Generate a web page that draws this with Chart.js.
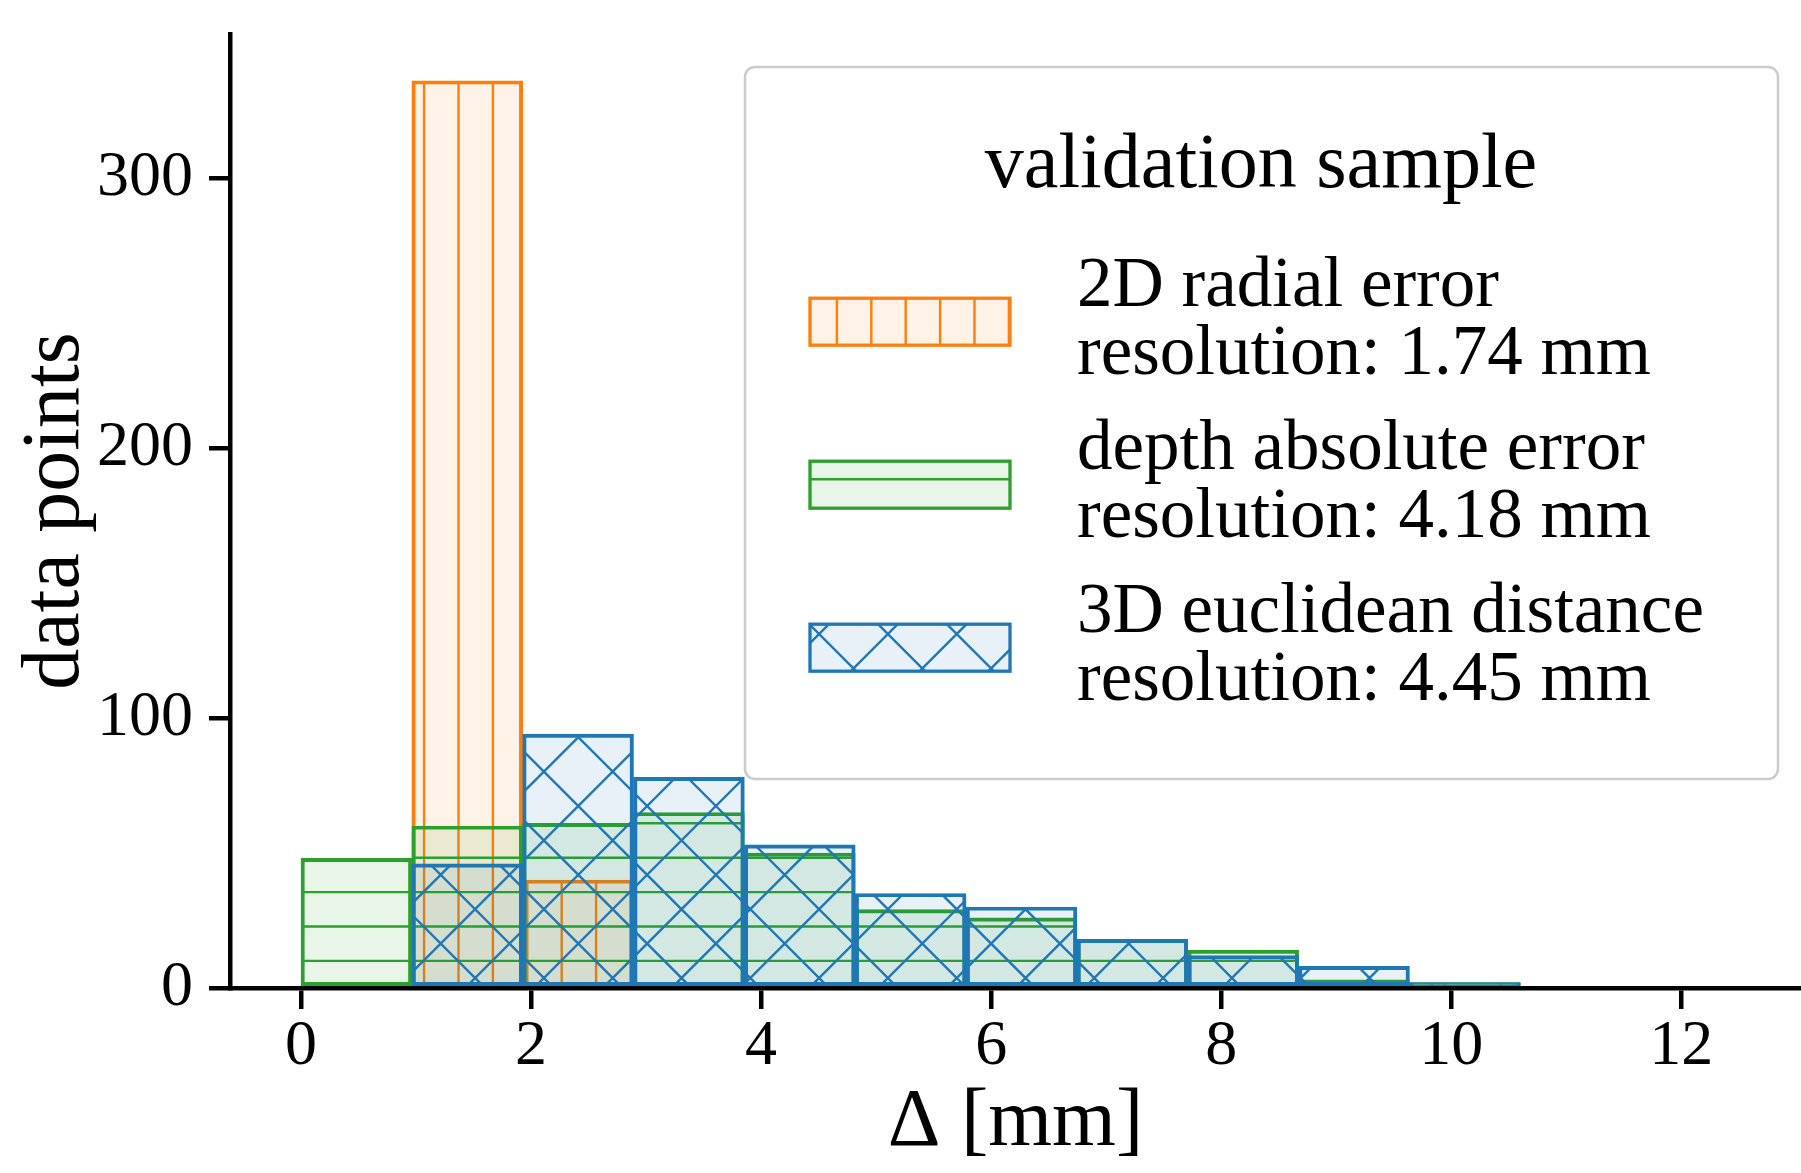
<!DOCTYPE html>
<html>
<head>
<meta charset="utf-8">
<script src="https://cdn.jsdelivr.net/npm/chart.js@4.4.1/dist/chart.umd.min.js"></script>
<style>
  html, body { margin: 0; padding: 0; background: #fff; }
  canvas { display: block; }
</style>
</head>
<body>
<canvas id="histChart" width="1801" height="1173"></canvas>
<script>
// histogram bin edges [mm]
const binEdges = [0, 0.9636, 1.9273, 2.8909, 3.8545, 4.8182, 5.7818, 6.7455, 7.7091, 8.6727, 9.6364, 10.6];
// counts per bin
const radial2D = [0, 336, 40, 0, 0, 0, 0, 0, 0, 0, 0];
const depthAbs = [48, 60, 61, 65, 50, 29, 26, 18, 14, 3, 2];
const euclid3D = [0, 46, 94, 78, 53, 35, 30, 18, 12, 8, 2];

const seriesNames = ['2D radial error', 'depth absolute error', '3D euclidean distance'];
const resolutions = ['resolution: 1.74 mm', 'resolution: 4.18 mm', 'resolution: 4.45 mm'];
const legendTitle = 'validation sample';

const xTicks = [0, 2, 4, 6, 8, 10, 12];
const yTicks = [0, 100, 200, 300];

const FONT = '"Liberation Serif", "Times New Roman", serif';
Chart.defaults.font.family = FONT;
Chart.defaults.color = '#000';

// hatch pattern like matplotlib: light fill + lines in edge colour, anchored to the canvas
function makeHatch(kind, rgb) {
  const size = 344, step = 34.4;
  const c = document.createElement('canvas');
  c.width = size; c.height = size;
  const g = c.getContext('2d');
  g.fillStyle = 'rgba(' + rgb + ',0.1)';
  g.fillRect(0, 0, size, size);
  g.strokeStyle = 'rgb(' + rgb + ')';
  g.lineWidth = 2.4;
  g.beginPath();
  if (kind === '|') {
    for (let k = 0; k < 10; k++) { const x = 11.3 + k * step; g.moveTo(x, 0); g.lineTo(x, size); }
  } else if (kind === '-') {
    for (let k = 0; k < 10; k++) { const y = 32.1 + k * step; g.moveTo(0, y); g.lineTo(size, y); }
  } else {
    for (let k = -12; k <= 12; k++) {
      const c1 = 21.3 + k * 2 * step; // y = x + c1
      g.moveTo(-20, -20 + c1); g.lineTo(size + 20, size + 20 + c1);
      const c2 = 8.3 + k * 2 * step;  // y = c2 - x
      g.moveTo(-20, c2 + 20); g.lineTo(size + 20, c2 - size - 20);
    }
  }
  g.stroke();
  return g.createPattern(c, 'repeat');
}

const centers = radial2D.map((_, i) => (binEdges[i] + binEdges[i + 1]) / 2);
const toPoints = vals => vals.map((v, i) => ({ x: centers[i], y: v > 0 ? v : null }));

const orange = '255,127,14', green = '44,160,44', blue = '31,119,180';

// draws the framed legend with hatched patches and two-line labels
const hatchLegend = {
  id: 'hatchLegend',
  afterDraw(chart) {
    const ctx = chart.ctx;
    ctx.save();
    ctx.beginPath();
    ctx.roundRect(745, 67, 1033, 712, 10);
    ctx.fillStyle = 'rgba(255,255,255,0.8)';
    ctx.fill();
    ctx.lineWidth = 2.5;
    ctx.strokeStyle = '#cccccc';
    ctx.stroke();

    ctx.fillStyle = '#000';
    ctx.textBaseline = 'alphabetic';
    ctx.textAlign = 'center';
    ctx.font = '78px ' + FONT;
    ctx.fillText(legendTitle, 1261, 187);

    ctx.textAlign = 'left';
    ctx.font = '71px ' + FONT;
    chart.data.datasets.forEach((ds, i) => {
      const cy = 321.7 + i * 163;
      ctx.fillStyle = ds.backgroundColor;
      ctx.fillRect(810, cy - 23.5, 200, 47);
      ctx.lineWidth = 3.3;
      ctx.strokeStyle = ds.borderColor;
      ctx.strokeRect(810, cy - 23.5, 200, 47);
      ctx.fillStyle = '#000';
      ctx.fillText(ds.label, 1077, cy - 16);
      ctx.fillText(resolutions[i], 1077, cy + 52);
    });
    ctx.restore();
  }
};

const ctx = document.getElementById('histChart').getContext('2d');

new Chart(ctx, {
  type: 'bar',
  data: {
    datasets: [
      {
        label: seriesNames[0],
        data: toPoints(radial2D),
        backgroundColor: makeHatch('|', orange),
        borderColor: 'rgb(' + orange + ')',
        borderWidth: 3.3,
        borderSkipped: false,
        order: 3
      },
      {
        label: seriesNames[1],
        data: toPoints(depthAbs),
        backgroundColor: makeHatch('-', green),
        borderColor: 'rgb(' + green + ')',
        borderWidth: 3.3,
        borderSkipped: false,
        order: 2
      },
      {
        label: seriesNames[2],
        data: toPoints(euclid3D),
        backgroundColor: makeHatch('x', blue),
        borderColor: 'rgb(' + blue + ')',
        borderWidth: 3.3,
        borderSkipped: false,
        order: 1
      }
    ]
  },
  options: {
    responsive: false,
    devicePixelRatio: 1,
    animation: false,
    layout: { padding: { top: 34, right: 0, left: 0, bottom: 0 } },
    datasets: { bar: { grouped: false, barPercentage: 1, categoryPercentage: 1 } },
    plugins: { legend: { display: false }, tooltip: { enabled: false } },
    scales: {
      x: {
        type: 'linear',
        offset: false,
        min: -0.617,
        max: 13.04,
        afterBuildTicks: s => { s.ticks = xTicks.map(v => ({ value: v })); },
        afterFit: s => { s.height = 185; s.paddingLeft = 0; s.paddingRight = 0; },
        grid: { offset: false, drawOnChartArea: false, tickLength: 21, lineWidth: 4.5, color: '#000' },
        border: { display: true, width: 4.5, color: '#000' },
        ticks: { font: { size: 64 }, padding: 0, maxRotation: 0, color: '#000' },
        title: { display: true, text: 'Δ [mm]', font: { size: 82 }, padding: { top: 0, bottom: 0 }, color: '#000' }
      },
      y: {
        min: 0,
        max: 353.3,
        afterBuildTicks: s => { s.ticks = yTicks.map(v => ({ value: v })); },
        afterFit: s => { s.width = 230; s.paddingTop = 0; s.paddingBottom = 0; },
        grid: { drawOnChartArea: false, tickLength: 21, lineWidth: 4.5, color: '#000' },
        border: { display: true, width: 4.5, color: '#000' },
        ticks: { font: { size: 64 }, padding: 16, color: '#000' },
        title: { display: true, text: 'data points', font: { size: 82 }, padding: { top: 7, bottom: 0 }, color: '#000' }
      }
    }
  },
  plugins: [hatchLegend]
});
</script>
</body>
</html>
